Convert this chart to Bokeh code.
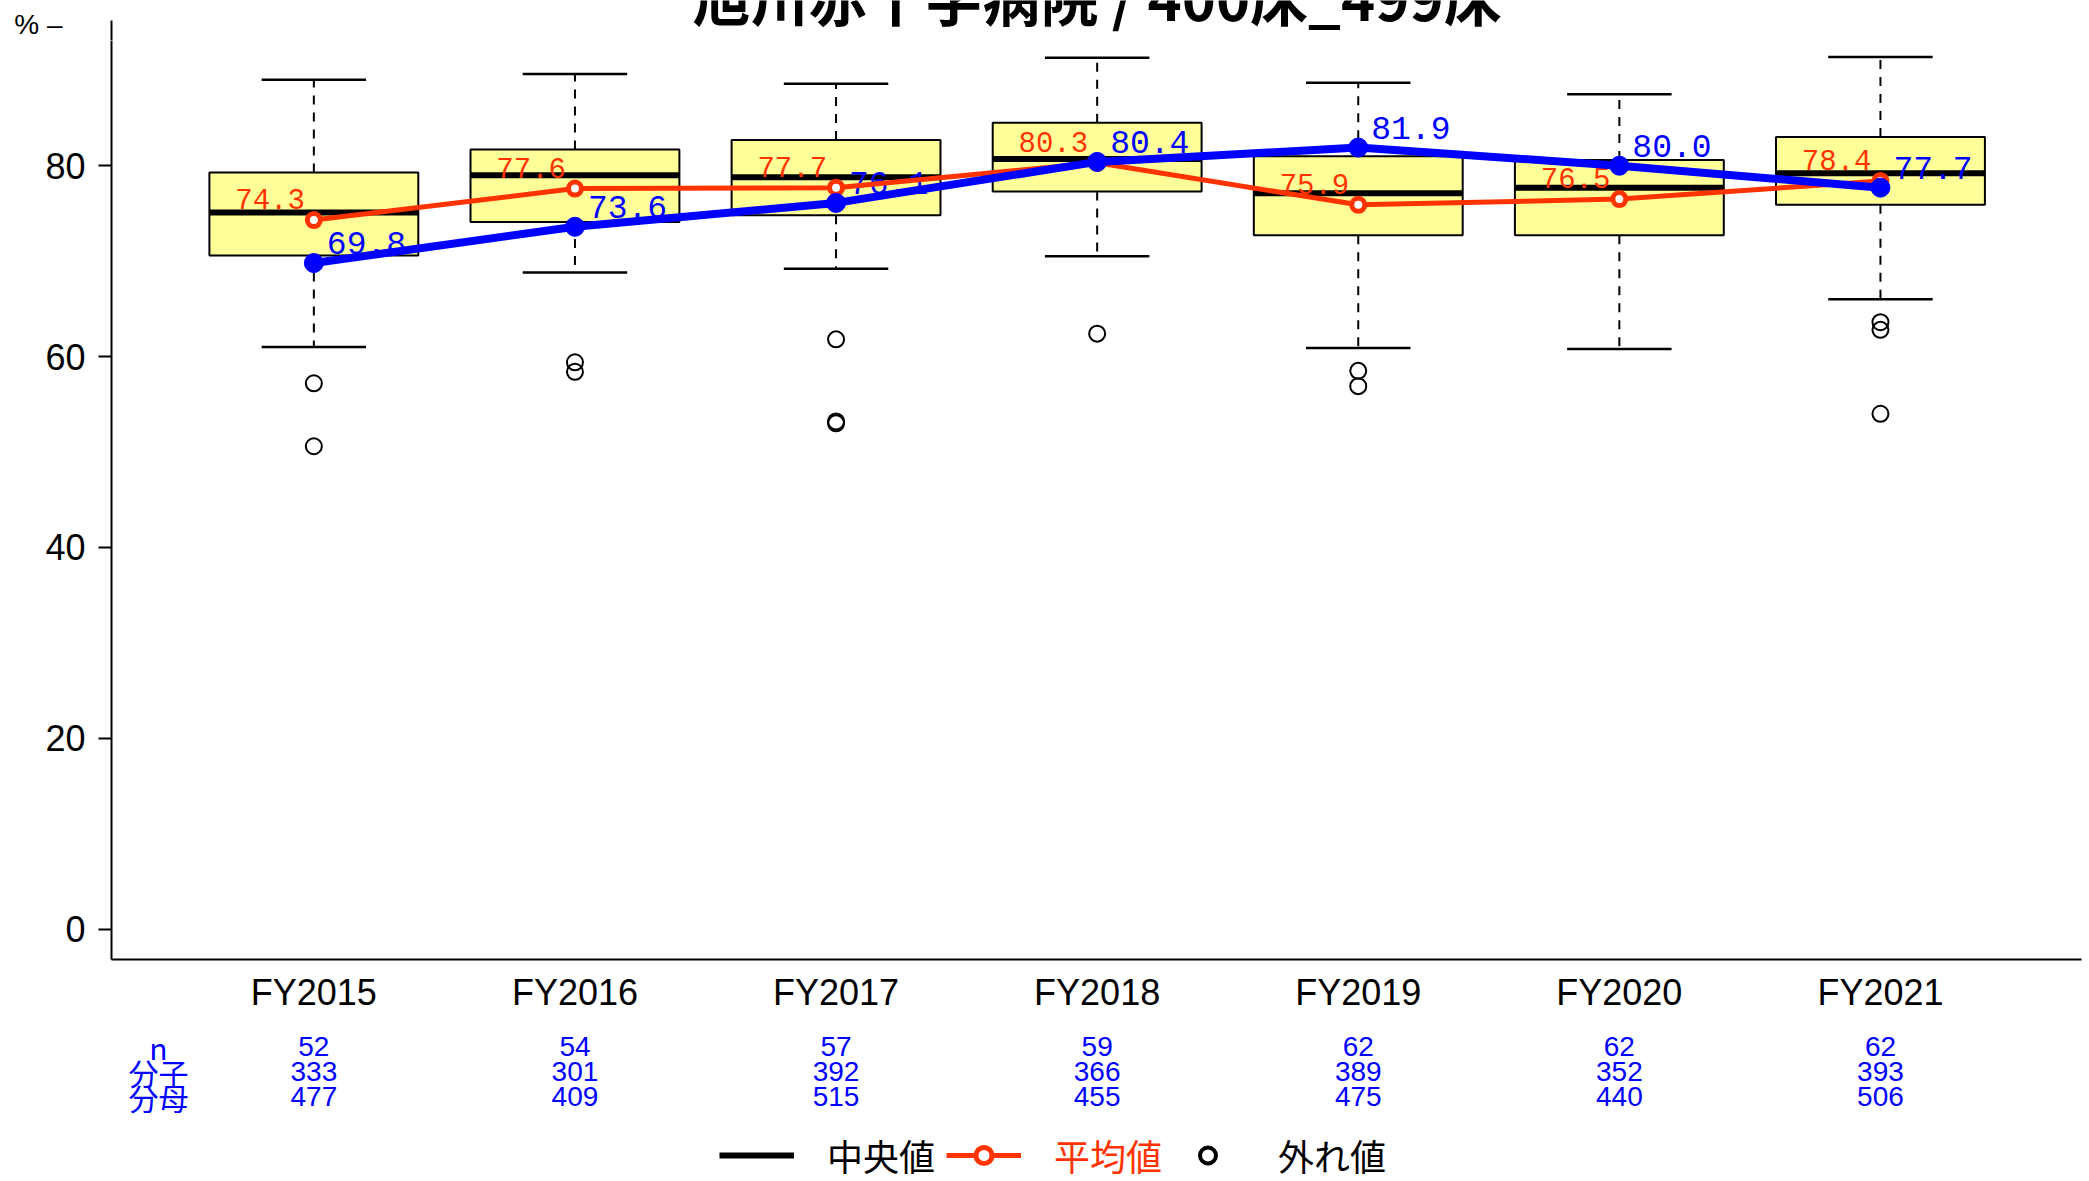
from bokeh.plotting import figure
from bokeh.layouts import column
from bokeh.models import (ColumnDataSource, Range1d, FixedTicker, Legend, LegendItem)
from bokeh.core.properties import value
from bokeh.embed import file_html
from bokeh.resources import INLINE

# ---------------- data ----------------
years = ["FY2015", "FY2016", "FY2017", "FY2018", "FY2019", "FY2020", "FY2021"]
lower_whisker = [61.0, 68.8, 69.2, 70.5, 60.9, 60.8, 66.0]
q1 = [70.6, 74.1, 74.8, 77.3, 72.7, 72.7, 75.9]
median = [75.1, 79.0, 78.8, 80.7, 77.1, 77.7, 79.2]
q3 = [79.3, 81.7, 82.7, 84.5, 81.0, 80.6, 83.0]
upper_whisker = [89.0, 89.6, 88.6, 91.3, 88.7, 87.5, 91.4]
outliers = [[57.2, 50.6], [59.4, 58.4], [61.8, 53.2, 53.0], [62.4],
            [58.5, 56.9], [], [63.6, 62.8, 54.0]]
mean_values = [74.3, 77.6, 77.7, 80.3, 75.9, 76.5, 78.4]
hospital_values = [69.8, 73.6, 76.1, 80.4, 81.9, 80.0, 77.7]
n_counts = [52, 54, 57, 59, 62, 62, 62]
numerators = [333, 301, 392, 366, 389, 352, 393]
denominators = [477, 409, 515, 455, 475, 440, 506]
row_labels = ["n", "分子", "分母"]
legend_labels = ["中央値", "平均値", "外れ値"]
title_text = "旭川赤十字病院 / 400床_499床"
unit_text = "% –"
y_ticks = [0, 20, 40, 60, 80]

# ---------------- styles / layout ----------------
RED = "#FF3300"
BLUE = "#0000FF"
BOX_FILL = "#FFFF99"
SANS = "Liberation Sans"
MONO = "Liberation Mono"
CJK = "Noto Sans CJK JP"

W = 2089
LEFT, RIGHT = 111, 8
TOP_H = 40                      # strip holding the (cut-off) title and the unit
AXIS_TOP = 20                   # page y where the y axis line starts
FRAME_BOTTOM = 959              # page y of the x axis
MAIN_BORDER_BOTTOM = 58
MAIN_H = FRAME_BOTTOM - TOP_H + MAIN_BORDER_BOTTOM
BOT_H = 1181 - TOP_H - MAIN_H
BOT_TOP = TOP_H + MAIN_H

X0, X1 = 0.225, 7.77
PX_PER_UNIT = 9.5425            # vertical scale of the main plot
Y_ZERO_PAGE = 928.6             # page y of value 0
Y_START = (Y_ZERO_PAGE - FRAME_BOTTOM) / PX_PER_UNIT
Y_END = (Y_ZERO_PAGE - TOP_H) / PX_PER_UNIT

xs = list(range(1, len(years) + 1))
box_w = 0.8
cap_w = 0.4

src = ColumnDataSource(dict(
    x=xs, lo=lower_whisker, q1=q1, med=median, q3=q3, hi=upper_whisker,
    mx0=[x - box_w / 2 for x in xs], mx1=[x + box_w / 2 for x in xs],
    cx0=[x - cap_w / 2 for x in xs], cx1=[x + cap_w / 2 for x in xs],
    mean=mean_values, hosp=hospital_values,
    mean_lbl=[f"{v:.1f}" for v in mean_values],
    hosp_lbl=[f"{v:.1f}" for v in hospital_values],
))

out_x, out_y = [], []
for x, vals in zip(xs, outliers):
    for v in vals:
        out_x.append(x)
        out_y.append(v)
out_src = ColumnDataSource(dict(x=out_x, y=out_y))

x_range = Range1d(X0, X1)


def blank(fig):
    fig.background_fill_color = "white"
    fig.border_fill_color = "white"
    fig.outline_line_color = None
    fig.xgrid.visible = False
    fig.ygrid.visible = False


# ---------------- top strip: title (cut off at the page top) and unit ----------------
p0 = figure(width=W, height=TOP_H, title=None, x_range=x_range,
            y_range=Range1d(TOP_H, 0), output_backend="svg", toolbar_location=None,
            min_border_left=LEFT, min_border_right=RIGHT, min_border_top=0,
            min_border_bottom=0, x_axis_type=None)
blank(p0)
p0.text(x=[4], y=[3], text=[title_text], y_offset=-8,
        text_align="center", text_baseline="middle", text_color="black",
        text_font=value(CJK), text_font_size="58px", text_font_style="bold")
# y axis continuation (starts at AXIS_TOP) carrying the unit label
unit_tick = 24
p0.yaxis.bounds = (AXIS_TOP, TOP_H)
p0.yaxis.ticker = FixedTicker(ticks=[unit_tick])
p0.yaxis.major_label_overrides = {unit_tick: unit_text}
p0.yaxis.major_tick_out = 0
p0.yaxis.major_tick_in = 0
p0.yaxis.minor_tick_out = 0
p0.yaxis.minor_tick_in = 0
p0.yaxis.major_label_standoff = 49
p0.yaxis.major_label_text_font = SANS
p0.yaxis.major_label_text_font_size = "28px"
p0.yaxis.major_label_text_color = "black"
p0.yaxis.axis_line_width = 2
p0.yaxis.axis_line_color = "black"

# ---------------- main plot ----------------
p = figure(width=W, height=MAIN_H, title=None,
           x_range=x_range, y_range=Range1d(Y_START, Y_END),
           output_backend="svg", toolbar_location=None,
           min_border_left=LEFT, min_border_right=RIGHT,
           min_border_top=0, min_border_bottom=MAIN_BORDER_BOTTOM)
blank(p)

# whiskers (dashed) and caps
p.segment(x0="x", y0="q3", x1="x", y1="hi", source=src, line_color="black",
          line_width=2, line_dash="9 8")
p.segment(x0="x", y0="q1", x1="x", y1="lo", source=src, line_color="black",
          line_width=2, line_dash="9 8")
p.segment(x0="cx0", y0="hi", x1="cx1", y1="hi", source=src, line_color="black", line_width=2.5)
p.segment(x0="cx0", y0="lo", x1="cx1", y1="lo", source=src, line_color="black", line_width=2.5)

# boxes and medians
p.vbar(x="x", width=box_w, bottom="q1", top="q3", source=src,
       fill_color=BOX_FILL, line_color="black", line_width=2)
p.segment(x0="mx0", y0="med", x1="mx1", y1="med", source=src,
          line_color="black", line_width=6)

# outliers
p.scatter(x="x", y="y", source=out_src, marker="circle", size=16,
          fill_color=None, line_color="black", line_width=2)

# value labels
p.text(x="x", y="mean", text="mean_lbl", source=src, x_offset=-9, y_offset=-21,
       text_align="right", text_baseline="middle", text_color=RED,
       text_font=value(MONO), text_font_size="29px")
p.text(x="x", y="hosp", text="hosp_lbl", source=src, x_offset=13, y_offset=-20,
       text_align="left", text_baseline="middle", text_color=BLUE,
       text_font=value(MONO), text_font_size="33px")

# mean line
p.line(x="x", y="mean", source=src, line_color=RED, line_width=5)
p.scatter(x="x", y="mean", source=src, marker="circle", size=13,
          fill_color="white", line_color=RED, line_width=5)

# hospital line
p.line(x="x", y="hosp", source=src, line_color=BLUE, line_width=8)
p.scatter(x="x", y="hosp", source=src, marker="circle", size=19,
          fill_color=BLUE, line_color=BLUE)

# axes
p.xaxis.ticker = FixedTicker(ticks=xs)
p.xaxis.major_label_overrides = {x: y for x, y in zip(xs, years)}
p.xaxis.major_tick_out = 0
p.xaxis.major_tick_in = 0
p.xaxis.minor_tick_out = 0
p.xaxis.minor_tick_in = 0
p.xaxis.major_label_standoff = 12
p.xaxis.major_label_text_font = SANS
p.xaxis.major_label_text_font_size = "36px"
p.xaxis.major_label_text_color = "black"
p.xaxis.axis_line_width = 2
p.xaxis.axis_line_color = "black"

p.yaxis.ticker = FixedTicker(ticks=y_ticks)
p.yaxis.major_tick_out = 13
p.yaxis.major_tick_in = 0
p.yaxis.minor_tick_out = 0
p.yaxis.minor_tick_in = 0
p.yaxis.major_tick_line_width = 2
p.yaxis.major_label_standoff = 13
p.yaxis.major_label_text_font = SANS
p.yaxis.major_label_text_font_size = "36px"
p.yaxis.major_label_text_color = "black"
p.yaxis.axis_line_width = 2
p.yaxis.axis_line_color = "black"

# ---------------- bottom strip: counts table and legend ----------------
p2 = figure(width=W, height=BOT_H, title=None, x_range=x_range,
            y_range=Range1d(1181, BOT_TOP), output_backend="svg",
            toolbar_location=None, min_border_left=LEFT, min_border_right=RIGHT,
            min_border_top=0, min_border_bottom=0, x_axis_type=None, y_axis_type=None)
blank(p2)

row_y = [1046, 1071, 1096]
tbl_src = ColumnDataSource(dict(
    x=xs * 3,
    y=[row_y[0]] * 7 + [row_y[1]] * 7 + [row_y[2]] * 7,
    t=[str(v) for v in n_counts] + [str(v) for v in numerators] + [str(v) for v in denominators],
))
p2.text(x="x", y="y", text="t", source=tbl_src, text_align="center",
        text_baseline="middle", text_color=BLUE, text_font=value(SANS),
        text_font_size="28px")
p2.text(x=[0.405] * 3, y=row_y, text=row_labels, text_align="center",
        text_baseline="middle", text_color=BLUE, text_font=value(CJK),
        text_font_size="30px")

# legend glyph renderers: same series styles (they lie outside this strip's view)
lg_med = p2.segment(x0="mx0", y0="med", x1="mx1", y1="med", source=src,
                    line_color="black", line_width=6)
lg_mean_line = p2.line(x="x", y="mean", source=src, line_color=RED, line_width=5)
lg_mean_pts = p2.scatter(x="x", y="mean", source=src, marker="circle", size=13,
                         fill_color="white", line_color=RED, line_width=5)
lg_out = p2.scatter(x="x", y="y", source=out_src, marker="circle", size=16,
                    fill_color=None, line_color="black", line_width=4)


def make_legend(label, renderers, color, vx):
    lg = Legend(items=[LegendItem(label=label, renderers=renderers)],
                location=(vx, 0), orientation="horizontal",
                glyph_width=75, glyph_height=40, label_standoff=33,
                padding=0, margin=0, spacing=0,
                border_line_color=None, background_fill_alpha=0,
                label_text_font=CJK, label_text_font_size="36px",
                label_text_color=color)
    p2.add_layout(lg)


make_legend(legend_labels[0], [lg_med], "black", 608)
make_legend(legend_labels[1], [lg_mean_line, lg_mean_pts], RED, 835)
make_legend(legend_labels[2], [lg_out], "black", 1059)

layout = column(p0, p, p2, spacing=0)
open("out.html", "w").write(file_html(layout, INLINE))
